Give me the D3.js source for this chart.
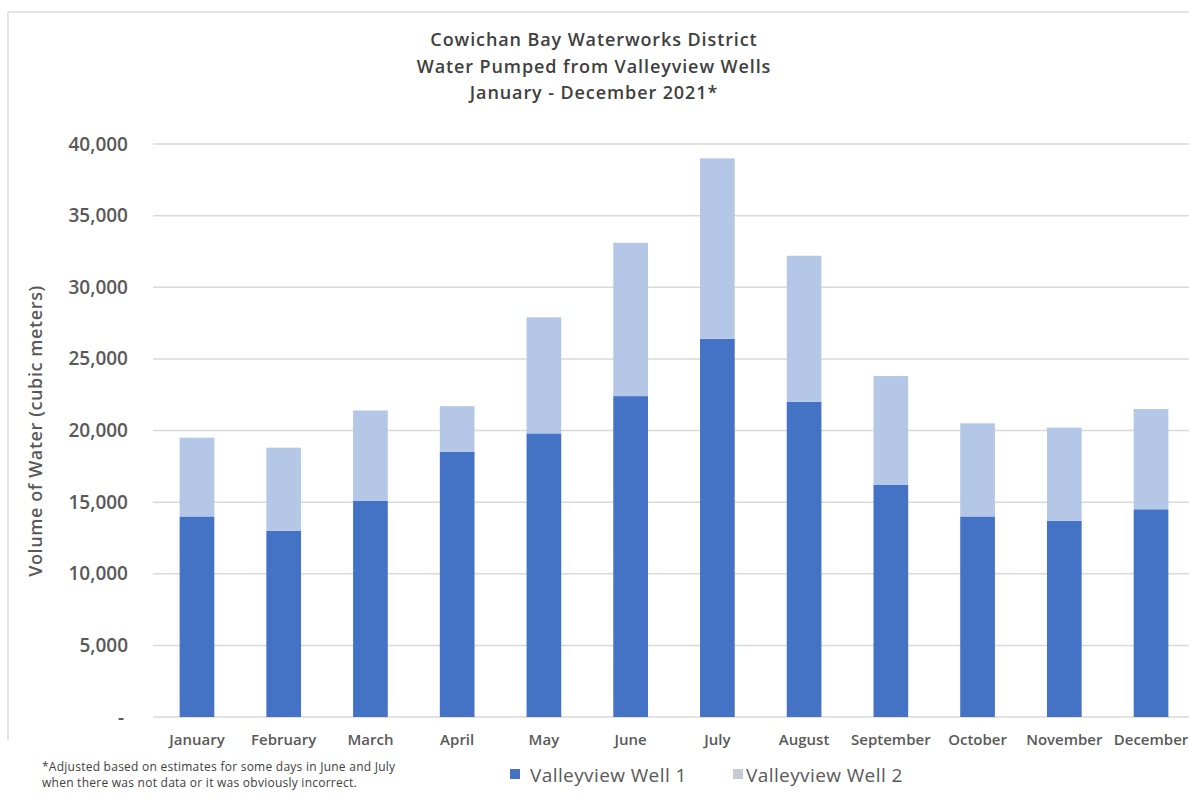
<!DOCTYPE html>
<html>
<head>
<meta charset="utf-8">
<script src="https://cdn.jsdelivr.net/npm/d3@7"></script>
<style>
  html, body { margin: 0; padding: 0; background: #ffffff; }
  svg { display: block; font-family: "Open Sans", "Noto Sans", sans-serif; }
</style>
</head>
<body>
<svg id="chart" width="1189" height="799"></svg>
<script>
const months = ["January","February","March","April","May","June","July","August","September","October","November","December"];
const well1 = [14000, 13000, 15100, 18500, 19800, 22400, 26400, 22000, 16200, 14000, 13700, 14500];
const well2 = [5500, 5800, 6300, 3200, 8100, 10700, 12600, 10200, 7600, 6500, 6500, 7000];
const seriesNames = ["Valleyview Well 1", "Valleyview Well 2"];
const yTicks = [0, 5000, 10000, 15000, 20000, 25000, 30000, 35000, 40000];
const titleLines = ["Cowichan Bay Waterworks District", "Water Pumped from Valleyview Wells", "January - December 2021*"];
const yTitle = "Volume of Water (cubic meters)";
const footnote = ["*Adjusted based on estimates for some days in June and July", "when there was not data or it was obviously incorrect."];

const colors = ["#4472c4", "#b4c7e7"];
const textColor = "#595959";

const svg = d3.select("#chart");

// faint container border
svg.append("line").attr("x1", 8).attr("x2", 1189).attr("y1", 12).attr("y2", 12)
  .attr("stroke", "#e4e4e4").attr("stroke-width", 2);
svg.append("line").attr("x1", 8).attr("x2", 8).attr("y1", 12).attr("y2", 740)
  .attr("stroke", "#e4e4e4").attr("stroke-width", 2);

const x = d3.scaleBand().domain(months).range([153.6, 1194.4]).paddingInner(0.6).paddingOuter(0.3);
const y = d3.scaleLinear().domain([0, 40000]).range([717, 144]);

// gridlines
svg.append("g").selectAll("line").data(yTicks).join("line")
  .attr("x1", 153).attr("x2", 1189)
  .attr("y1", d => y(d)).attr("y2", d => y(d))
  .attr("stroke", "#d9d9d9").attr("stroke-width", 1.5);

// y axis labels
const yAxis = d3.axisLeft(y).tickValues(yTicks).tickSize(0).tickPadding(0)
  .tickFormat(d => d === 0 ? "-" : d3.format(",")(d));
const gy = svg.append("g").attr("transform", "translate(128,0)").call(yAxis);
gy.select(".domain").remove();
gy.selectAll("text").attr("fill", textColor).attr("font-size", 19).attr("font-weight", 600)
  .attr("font-family", "'Open Sans', sans-serif").attr("dx", d => d === 0 ? -4 : 0);

// stacked bars
const data = months.map((m, i) => ({ month: m, w1: well1[i], w2: well2[i] }));
const stack = d3.stack().keys(["w1", "w2"]);
const layers = stack(data);
svg.append("g").selectAll("g").data(layers).join("g")
  .attr("fill", (d, i) => colors[i])
  .selectAll("rect").data(d => d).join("rect")
  .attr("x", d => x(d.data.month))
  .attr("width", x.bandwidth())
  .attr("y", d => y(d[1]))
  .attr("height", d => y(d[0]) - y(d[1]));

// x axis labels
const xAxis = d3.axisBottom(x).tickSize(0).tickPadding(0);
const gx = svg.append("g").attr("transform", "translate(0,734)").call(xAxis);
gx.select(".domain").remove();
gx.selectAll("text").attr("fill", textColor).attr("font-size", 15).attr("font-weight", 600)
  .attr("font-family", "'Open Sans', sans-serif");

// title
svg.append("g").selectAll("text").data(titleLines).join("text")
  .attr("x", 594).attr("y", (d, i) => 46 + i * 26.5)
  .attr("text-anchor", "middle").attr("fill", "#404040")
  .attr("font-size", 18).attr("font-weight", 600).attr("letter-spacing", 0.9)
  .text(d => d);

// y title
svg.append("text")
  .attr("transform", "translate(42,431) rotate(-90)")
  .attr("text-anchor", "middle").attr("fill", textColor)
  .attr("font-size", 18).attr("font-weight", 600).attr("letter-spacing", 0.6)
  .text(yTitle);

// footnote
svg.append("g").selectAll("text").data(footnote).join("text")
  .attr("x", 42).attr("y", (d, i) => 771 + i * 16)
  .attr("fill", "#404040").attr("font-size", 12).attr("letter-spacing", 0.25)
  .text(d => d);

// legend
const legendX = [510, 733];
const lg = svg.append("g").selectAll("g").data(seriesNames).join("g")
  .attr("transform", (d, i) => `translate(${legendX[i]},0)`);
lg.append("rect").attr("x", 0).attr("y", 769).attr("width", 10).attr("height", 10)
  .attr("fill", (d, i) => i === 0 ? colors[0] : "#c6cad3");
lg.append("text").attr("x", (d, i) => i === 0 ? 20 : 13).attr("y", 782)
  .attr("fill", textColor).attr("font-size", 19).attr("letter-spacing", 0.4)
  .text(d => d);
</script>
</body>
</html>
